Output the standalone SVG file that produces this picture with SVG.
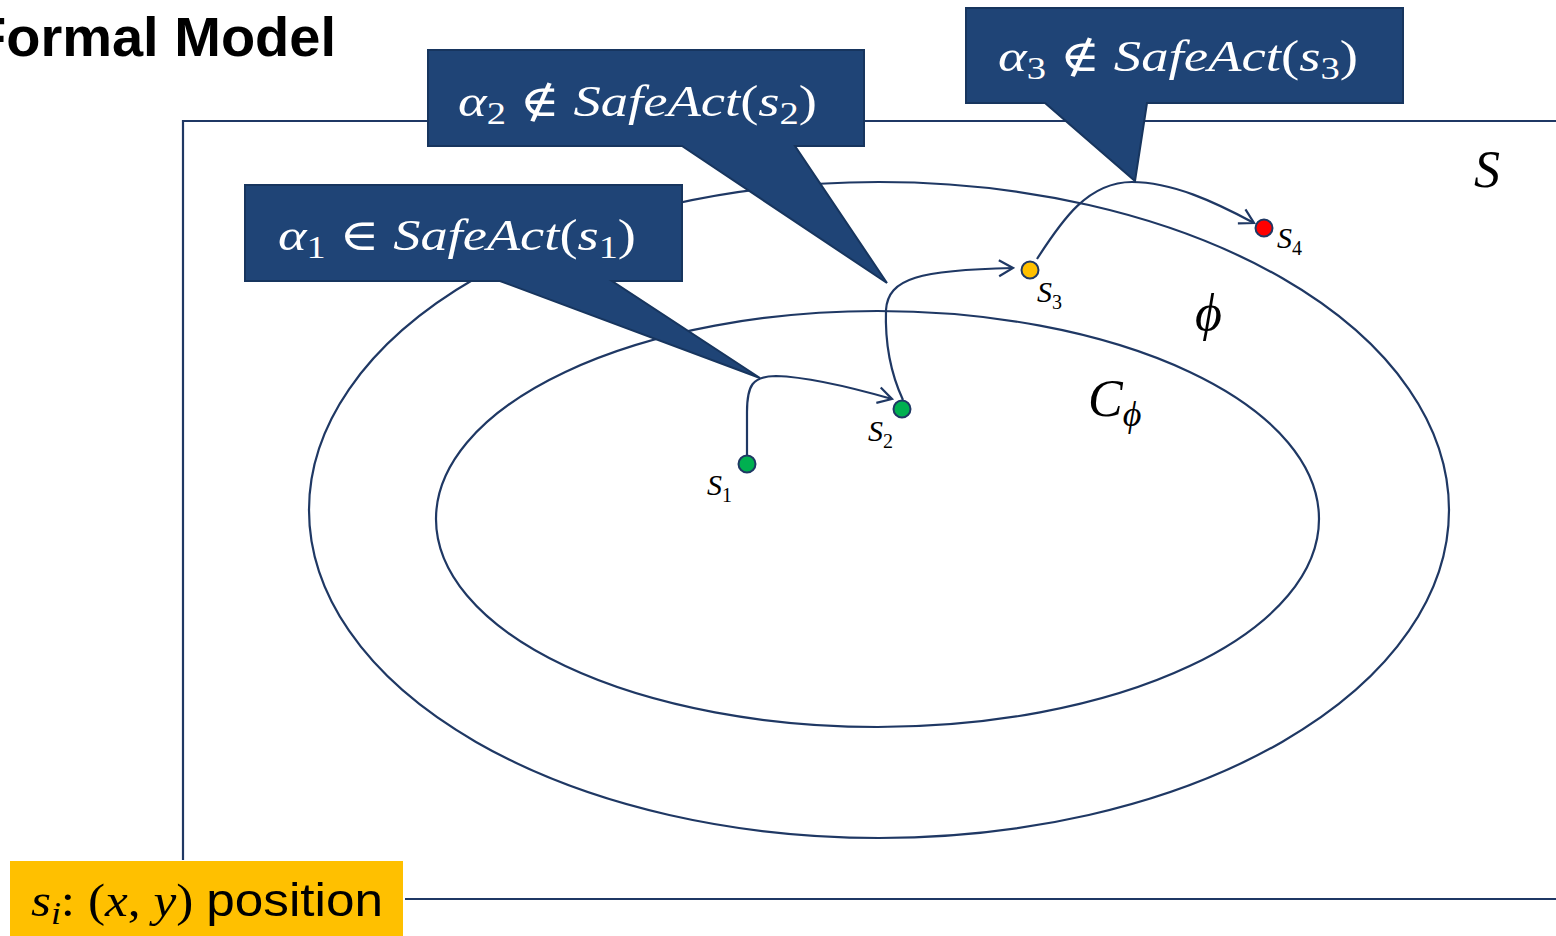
<svg xmlns="http://www.w3.org/2000/svg" width="1556" height="936" viewBox="0 0 1556 936">
<defs>
<style>
.ln{fill:none;stroke:#1F3864;stroke-width:2.2}
.co{fill:#1F4476;stroke:#17355E;stroke-width:2}
.m{font-family:"Liberation Serif","DejaVu Serif",serif;font-style:italic}
.u{font-family:"Liberation Serif","DejaVu Serif",serif;font-style:normal}
.wt{fill:#FFFFFF}
.pt{stroke:#1F3864;stroke-width:2}
</style>
<marker id="ah" viewBox="0 0 20 20" refX="18" refY="10" markerWidth="20" markerHeight="20" markerUnits="userSpaceOnUse" orient="auto">
<path d="M4,2 L18,10 L4,18" fill="none" stroke="#1F3864" stroke-width="2.2"/>
</marker>
</defs>
<rect width="1556" height="936" fill="#FFFFFF"/>
<text x="336" y="56" text-anchor="end" font-family="Liberation Sans, Arial, sans-serif" font-weight="bold" font-size="56" fill="#000">Formal Model</text>

<g id="stateSpace">
<path class="ln" d="M183,860 L183,121 L1556,121 M405,899 L1556,899"/>
<text x="1474" y="187" class="m" font-size="52" fill="#000">S</text>
</g>

<g id="phi">
<ellipse class="ln" cx="879" cy="510" rx="570" ry="328"/>
<text x="1195" y="330" class="m" font-size="52" fill="#000">ϕ</text>
</g>

<g id="cphi">
<ellipse class="ln" cx="877.5" cy="519" rx="441.5" ry="208"/>
<text x="1088" y="416" class="m" font-size="52" fill="#000">C<tspan font-size="36" dy="10">ϕ</tspan></text>
</g>

<g id="connectors">
<path class="ln" d="M747,455 L747,412 C747,386 752,376 776,376 C810,377 850,387 892,399" marker-end="url(#ah)"/>
<path class="ln" d="M903,400 C890,372 885,340 886,310 C888,278 920,270 1013,268" marker-end="url(#ah)"/>
<path class="ln" d="M1037,259 C1062,220 1088,182 1132,182 C1172,182 1215,202 1254,223" marker-end="url(#ah)"/>
</g>

<g id="callout1">
<path class="co" d="M245,185 L682,185 L682,281 L612,281 L760,378 L500,281 L245,281 Z"/>
<text x="278" y="250" class="m wt" font-size="44" textLength="358" lengthAdjust="spacingAndGlyphs">α<tspan class="u" font-size="31" dy="8">1</tspan><tspan class="u" dy="-8"> ∈ </tspan>SafeAct<tspan class="u">(</tspan>s<tspan class="u" font-size="31" dy="8">1</tspan><tspan class="u" dy="-8">)</tspan></text>
</g>

<g id="callout2">
<path class="co" d="M428,50 L864,50 L864,146 L795,146 L887,283 L682,146 L428,146 Z"/>
<text x="458" y="116" class="m wt" font-size="44" textLength="359" lengthAdjust="spacingAndGlyphs">α<tspan class="u" font-size="31" dy="8">2</tspan><tspan class="u" dy="-8"> ∉ </tspan>SafeAct<tspan class="u">(</tspan>s<tspan class="u" font-size="31" dy="8">2</tspan><tspan class="u" dy="-8">)</tspan></text>
</g>

<g id="callout3">
<path class="co" d="M966,8 L1403,8 L1403,103 L1147,103 L1135,181 L1045,103 L966,103 Z"/>
<text x="998" y="71" class="m wt" font-size="44" textLength="360" lengthAdjust="spacingAndGlyphs">α<tspan class="u" font-size="31" dy="8">3</tspan><tspan class="u" dy="-8"> ∉ </tspan>SafeAct<tspan class="u">(</tspan>s<tspan class="u" font-size="31" dy="8">3</tspan><tspan class="u" dy="-8">)</tspan></text>
</g>

<g id="s1">
<circle class="pt" cx="747" cy="464" r="8.5" fill="#00B050"/>
<text x="707" y="495" class="m" font-size="30" fill="#000">S<tspan class="u" font-size="20" dy="7">1</tspan></text>
</g>
<g id="s2">
<circle class="pt" cx="902" cy="409" r="8.5" fill="#00B050"/>
<text x="868" y="441" class="m" font-size="30" fill="#000">S<tspan class="u" font-size="20" dy="7">2</tspan></text>
</g>
<g id="s3">
<circle class="pt" cx="1030" cy="270" r="8.5" fill="#FFC000"/>
<text x="1037" y="302" class="m" font-size="30" fill="#000">S<tspan class="u" font-size="20" dy="7">3</tspan></text>
</g>
<g id="s4">
<circle class="pt" cx="1264" cy="228" r="8.5" fill="#FF0000"/>
<text x="1277" y="248" class="m" font-size="30" fill="#000">S<tspan class="u" font-size="20" dy="7">4</tspan></text>
</g>

<g id="legend">
<rect x="10" y="861" width="393" height="75" fill="#FFC000"/>
<text x="31" y="916" class="m" font-size="46" fill="#000" textLength="352" lengthAdjust="spacingAndGlyphs">s<tspan font-size="32" dy="8">i</tspan><tspan class="u" dy="-8">: (</tspan>x<tspan class="u">, </tspan>y<tspan class="u">) </tspan><tspan font-family="Liberation Sans, Arial, sans-serif" font-style="normal" font-size="46">position</tspan></text>
</g>
</svg>
